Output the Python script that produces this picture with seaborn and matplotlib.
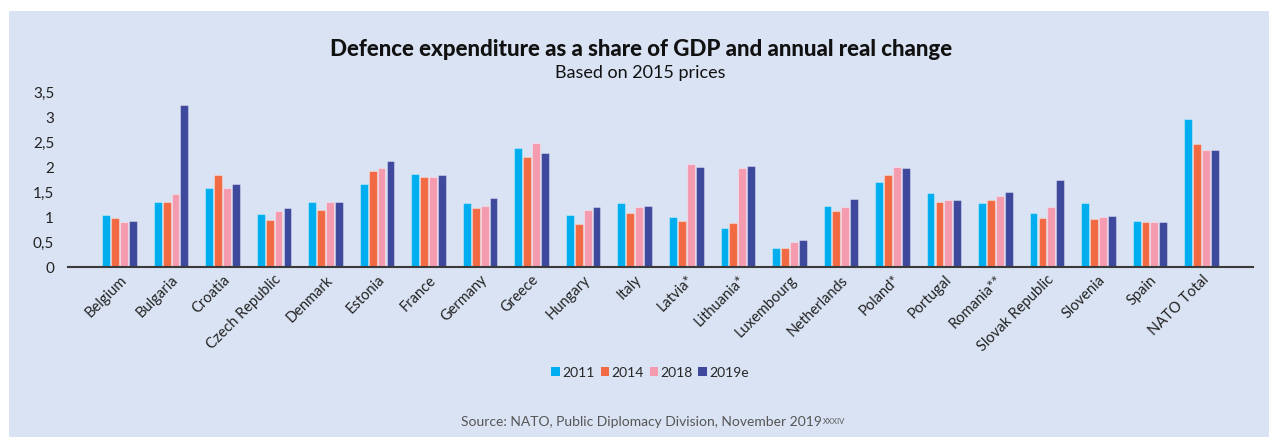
import matplotlib
matplotlib.use("Agg")
import matplotlib.pyplot as plt
from matplotlib.patches import Rectangle
from matplotlib.ticker import FuncFormatter
import numpy as np
import pandas as pd
import seaborn as sns

countries = ["Belgium", "Bulgaria", "Croatia", "Czech Republic", "Denmark", "Estonia",
             "France", "Germany", "Greece", "Hungary", "Italy", "Latvia*", "Lithuania*",
             "Luxembourg", "Netherlands", "Poland*", "Portugal", "Romania**",
             "Slovak Republic", "Slovenia", "Spain", "NATO Total"]
years = ["2011", "2014", "2018", "2019e"]
v2011 = [1.04, 1.31, 1.59, 1.07, 1.31, 1.67, 1.86, 1.28, 2.38, 1.04, 1.29, 1.01, 0.79,
         0.38, 1.23, 1.71, 1.48, 1.29, 1.08, 1.29, 0.93, 2.96]
v2014 = [0.98, 1.31, 1.84, 0.95, 1.15, 1.92, 1.81, 1.18, 2.20, 0.86, 1.08, 0.93, 0.88,
         0.38, 1.13, 1.85, 1.30, 1.34, 0.98, 0.97, 0.91, 2.47]
v2018 = [0.91, 1.47, 1.59, 1.13, 1.30, 1.99, 1.81, 1.23, 2.48, 1.15, 1.21, 2.07, 1.98,
         0.51, 1.21, 2.01, 1.35, 1.43, 1.21, 1.01, 0.91, 2.35]
v2019 = [0.93, 3.24, 1.67, 1.18, 1.31, 2.13, 1.84, 1.38, 2.28, 1.21, 1.22, 2.00, 2.02,
         0.55, 1.36, 1.99, 1.35, 1.51, 1.74, 1.03, 0.91, 2.35]
colors = ["#00AEEF", "#F26A44", "#F59BB0", "#3E489D"]

df = pd.DataFrame({
    "country": countries * 4,
    "year": np.repeat(years, len(countries)),
    "value": v2011 + v2014 + v2018 + v2019,
})

sns.set_theme(style="white")
plt.rcParams["font.family"] = ["Lato", "DejaVu Sans"]

bg = "#DAE3F3"
fig = plt.figure(figsize=(12.69, 4.37), dpi=100, facecolor="white")
fig.patches.append(Rectangle((9 / 1269, 0), 1, 1 - 11 / 437, transform=fig.transFigure,
                             facecolor=bg, edgecolor="none", zorder=-10))

ax = fig.add_axes([68 / 1269, 1 - 267.3 / 437, (1253 - 68) / 1269, (267.3 - 92.3) / 437])
ax.set_zorder(5)
ax.patch.set_alpha(0)

sns.barplot(data=df, x="country", y="value", hue="year", palette=colors,
            width=0.69, gap=0.12, saturation=1, ax=ax, legend=True,
            edgecolor=(1, 1, 1, 0.35), linewidth=0.8)

ax.set_xlim(-1, 22)
ax.set_ylim(0, 3.5)
ax.set_yticks(np.arange(0, 3.51, 0.5))
ax.yaxis.set_major_formatter(FuncFormatter(lambda v, p: f"{v:g}".replace(".", ",")))
ax.set_xlabel("")
ax.set_ylabel("")
for s in ["top", "right", "left"]:
    ax.spines[s].set_visible(False)
ax.spines["bottom"].set_color("#3a3a3a")
ax.spines["bottom"].set_linewidth(1.5)
ax.tick_params(axis="both", length=0)
ax.tick_params(axis="y", labelsize=11, labelcolor="#222222", pad=10)
ax.tick_params(axis="x", labelsize=10.5, labelcolor="#222222", pad=4)
for lab in ax.get_xticklabels():
    lab.set_rotation(45)
    lab.set_ha("right")
    lab.set_rotation_mode("anchor")

leg = ax.legend(loc="center", bbox_to_anchor=(650 / 1269, 1 - 372.7 / 437),
                bbox_transform=fig.transFigure, ncol=4, frameon=False,
                handlelength=0.6, handleheight=0.6, handletextpad=0.15,
                columnspacing=0.45, fontsize=10, borderaxespad=0)
for h in leg.legend_handles:
    h.set_edgecolor("none")

fig.text(641 / 1269, 1 - 50 / 437, "Defence expenditure as a share of GDP and annual real change",
         ha="center", va="center", fontsize=16, fontweight="black", color="#111111")
fig.text(640 / 1269, 1 - 73 / 437, "Based on 2015 prices",
         ha="center", va="center", fontsize=13, color="#111111")

src = fig.text(641 / 1269, 1 - 422 / 437, "Source: NATO, Public Diplomacy Division, November 2019",
               ha="center", va="center", fontsize=10, color="#555555")
fig.canvas.draw()
bb = src.get_window_extent(renderer=fig.canvas.get_renderer())
x1, y1 = fig.transFigure.inverted().transform((bb.x1, bb.y1))
fig.text(x1 + 1 / 1269, y1 - 2 / 437, "XXXIV", ha="left", va="top",
         fontsize=5.5, color="#555555")

fig.savefig("out.png", dpi=100, facecolor="white")
